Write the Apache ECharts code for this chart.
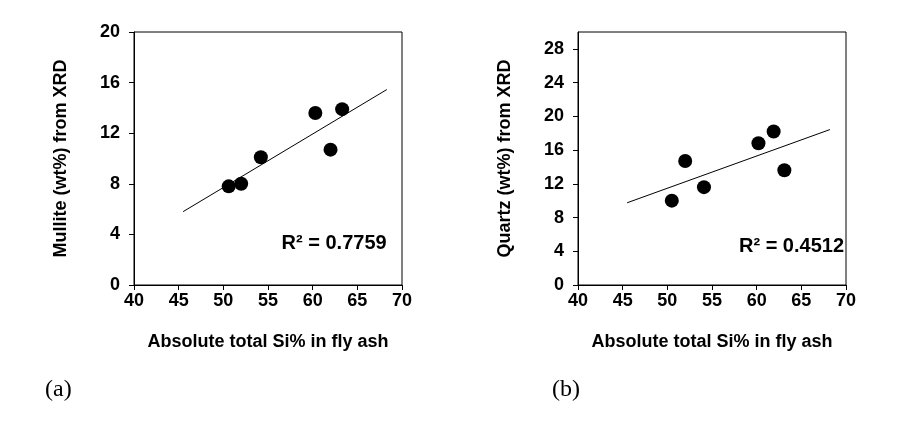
<!DOCTYPE html>
<html>
<head>
<meta charset="utf-8">
<script src="https://cdn.jsdelivr.net/npm/echarts@6/dist/echarts.min.js"></script>
<style>
html,body{margin:0;padding:0;background:#fff;}
#chart{width:914px;height:421px;}
</style>
</head>
<body>
<div id="chart"></div>
<script>
// Panel (a): Mullite vs absolute total Si%
var siA = [50.6, 52.0, 54.2, 60.3, 63.3, 62.0];
var mullite = [7.8, 8.0, 10.1, 13.6, 13.9, 10.7];
var trendA = [[45.5, 5.8], [68.3, 15.45]];
var r2A = 'R² = 0.7759';
var r2APos = [62.4, 3.3];

// Panel (b): Quartz vs absolute total Si%
var siB = [50.5, 52.0, 54.1, 60.2, 61.9, 63.1];
var quartz = [10.0, 14.7, 11.6, 16.8, 18.2, 13.6];
var trendB = [[45.5, 9.75], [68.2, 18.43]];
var r2B = 'R² = 0.4512';
var r2BPos = [63.9, 4.6];

var xTitle = 'Absolute total Si% in fly ash';
var yTitleA = 'Mullite (wt%) from XRD';
var yTitleB = 'Quartz (wt%) from XRD';
var yTicksB = [0, 4, 8, 12, 16, 20, 24, 28];
var panelLabels = ['(a)', '(b)'];

function pairs(xs, ys) { return xs.map(function (x, i) { return [x, ys[i]]; }); }

var FONT = 'Liberation Sans, Arial, sans-serif';
var lbl = { color: '#000', fontFamily: FONT, fontWeight: 'bold', fontSize: 18 };
var axisLine = { show: true, lineStyle: { color: '#000', width: 1 } };
var nameStyle = { color: '#000', fontFamily: FONT, fontWeight: 'bold', fontSize: 18 };

function xAxis(gi) {
  return {
    type: 'value', gridIndex: gi, min: 40, max: 70, interval: 5,
    name: xTitle, nameLocation: 'middle', nameGap: 48,
    nameTextStyle: nameStyle,
    axisLine: axisLine,
    axisTick: { show: true, inside: false, length: 5, lineStyle: { color: '#000' } },
    axisLabel: Object.assign({ margin: 7 }, lbl),
    splitLine: { show: false }
  };
}

var option = {
  backgroundColor: '#fff',
  animation: false,
  grid: [
    { left: 134, top: 32, width: 268, height: 253, show: true, borderColor: '#000', borderWidth: 1, containLabel: false },
    { left: 578, top: 32, width: 268, height: 253, show: true, borderColor: '#000', borderWidth: 1, containLabel: false }
  ],
  xAxis: [xAxis(0), xAxis(1)],
  yAxis: [
    {
      type: 'value', gridIndex: 0, min: 0, max: 20, interval: 4,
      name: yTitleA, nameLocation: 'middle', nameGap: 64, nameRotate: 90,
      nameTextStyle: nameStyle,
      axisLine: axisLine,
      axisTick: { show: true, inside: false, length: 5, lineStyle: { color: '#000' } },
      axisLabel: Object.assign({ margin: 14 }, lbl),
      splitLine: { show: false }
    },
    {
      type: 'value', gridIndex: 1, min: 0, max: 30, interval: 4,
      name: yTitleB, nameLocation: 'middle', nameGap: 64, nameRotate: 90,
      nameTextStyle: nameStyle,
      axisLine: axisLine,
      axisTick: { show: true, inside: false, length: 5, lineStyle: { color: '#000' }, customValues: yTicksB },
      axisLabel: Object.assign({ margin: 14, customValues: yTicksB }, lbl),
      splitLine: { show: false }
    }
  ],
  series: [
    {
      type: 'line', xAxisIndex: 0, yAxisIndex: 0, data: trendA, symbol: 'none',
      lineStyle: { color: '#000', width: 1 }, silent: true,
      markPoint: {
        symbol: 'circle', symbolSize: 0,
        label: { show: true, position: 'inside', formatter: r2A, color: '#000', fontFamily: FONT, fontWeight: 'bold', fontSize: 20 },
        data: [{ coord: r2APos }]
      }
    },
    {
      type: 'scatter', xAxisIndex: 0, yAxisIndex: 0, data: pairs(siA, mullite),
      symbol: 'circle', symbolSize: 14, itemStyle: { color: '#000', opacity: 1 }
    },
    {
      type: 'line', xAxisIndex: 1, yAxisIndex: 1, data: trendB, symbol: 'none',
      lineStyle: { color: '#000', width: 1 }, silent: true,
      markPoint: {
        symbol: 'circle', symbolSize: 0,
        label: { show: true, position: 'inside', formatter: r2B, color: '#000', fontFamily: FONT, fontWeight: 'bold', fontSize: 20 },
        data: [{ coord: r2BPos }]
      }
    },
    {
      type: 'scatter', xAxisIndex: 1, yAxisIndex: 1, data: pairs(siB, quartz),
      symbol: 'circle', symbolSize: 14, itemStyle: { color: '#000', opacity: 1 }
    }
  ],
  graphic: [
    { type: 'text', left: 45, top: 378, style: { text: panelLabels[0], fill: '#000', font: '24px "Liberation Serif", "Times New Roman", serif' } },
    { type: 'text', left: 552, top: 378, style: { text: panelLabels[1], fill: '#000', font: '24px "Liberation Serif", "Times New Roman", serif' } }
  ]
};

var chart = echarts.init(document.getElementById('chart'), null, { renderer: 'canvas' });
chart.setOption(option);
</script>
</body>
</html>
